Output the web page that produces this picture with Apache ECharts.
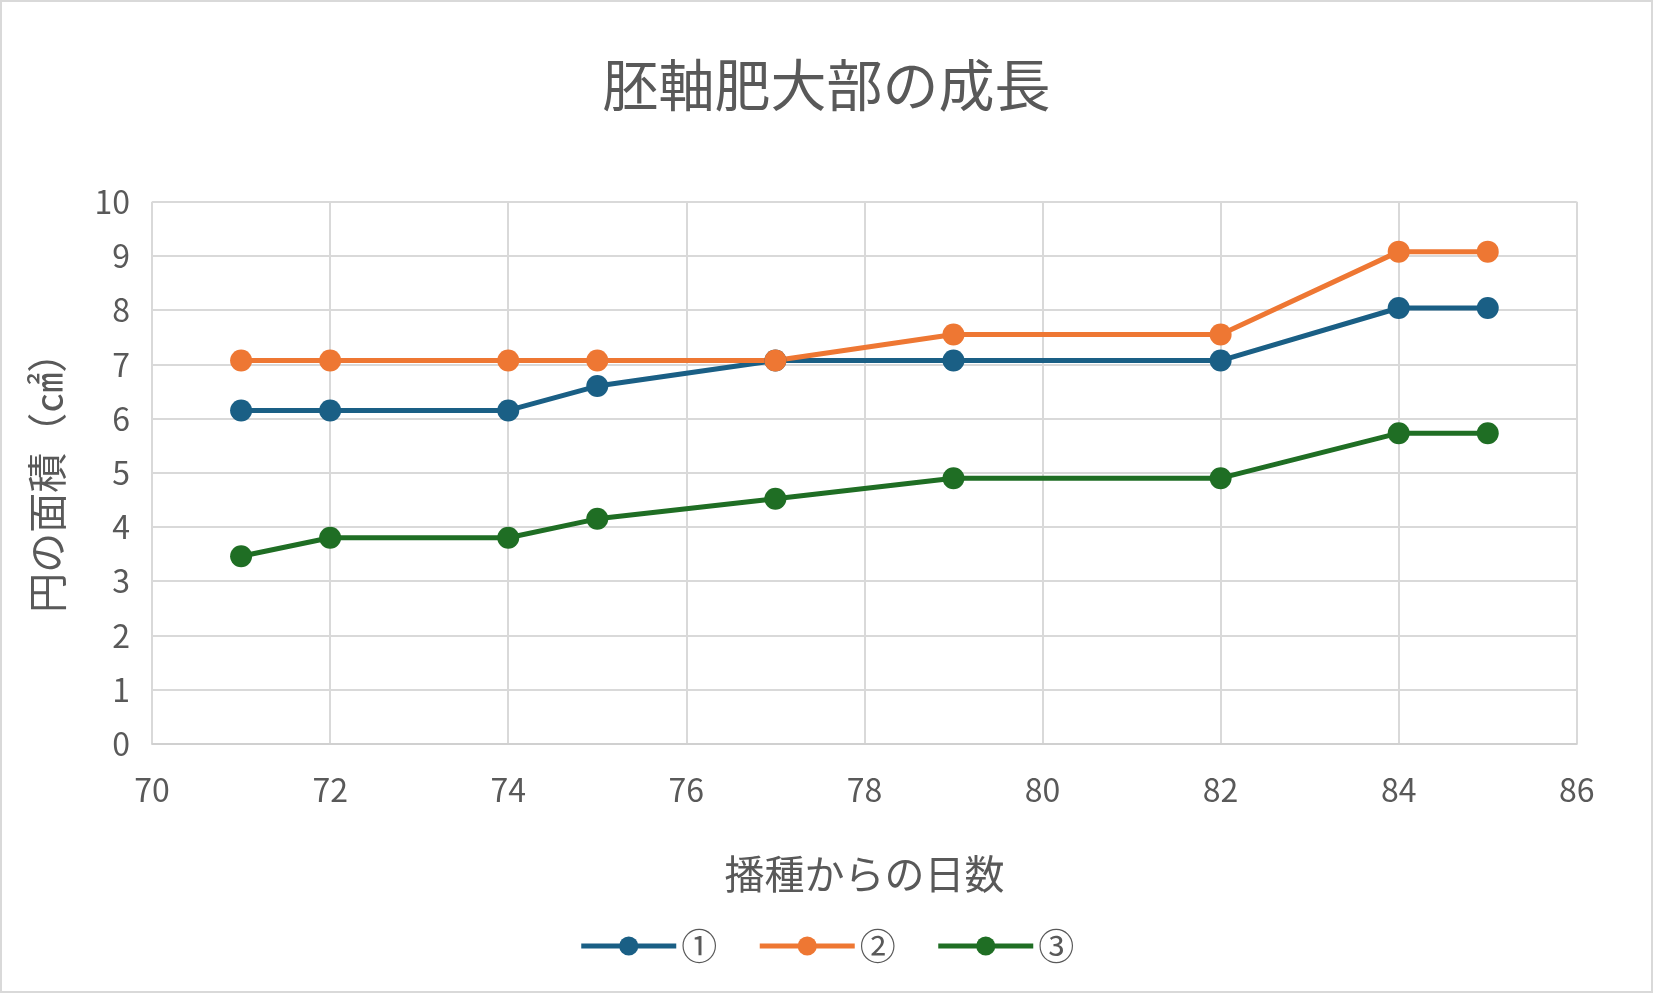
<!DOCTYPE html>
<html lang="ja">
<head>
<meta charset="UTF-8">
<script src="https://cdn.jsdelivr.net/npm/echarts@6/dist/echarts.min.js"></script>
<style>
html, body { width: 100%; height: 100%; margin: 0; padding: 0; background: #fff; }
#chart { width: 100%; height: 100%; box-sizing: border-box; border: 2px solid #d9d9d9; }
body { overflow: hidden; }
</style>
</head>
<body>
<div id="chart"></div>
<script>
// 播種からの日数
const days = [71, 72, 74, 75, 77, 79, 82, 84, 85];
const s1 = [6.15, 6.15, 6.15, 6.6, 7.07, 7.07, 7.07, 8.04, 8.04];
const s2 = [7.07, 7.07, 7.07, 7.07, 7.07, 7.55, 7.55, 9.08, 9.08];
const s3 = [3.46, 3.8, 3.8, 4.15, 4.52, 4.9, 4.9, 5.73, 5.73];
const names = ['①', '②', '③'];
const colors = ['#1a5f85', '#ee7733', '#1f6e24'];

const font = '"Noto Sans CJK JP", "Noto Sans", sans-serif';
const chart = echarts.init(document.getElementById('chart'));

function mk(name, vals, color) {
    return {
        name: name, type: 'line',
        data: days.map((d, i) => [d, vals[i]]),
        symbol: 'circle', symbolSize: 22,
        itemStyle: { color: color },
        lineStyle: { color: color, width: 5 }
    };
}

chart.setOption({
    color: colors,
    title: {
        text: '胚軸肥大部の成長', left: 'center', top: 50,
        textStyle: { fontFamily: font, fontSize: 56, fontWeight: 'normal', color: '#595959' }
    },
    legend: {
        bottom: 22, itemWidth: 95, itemHeight: 24, itemGap: 40,
        lineStyle: { width: 5 },
        textStyle: { fontFamily: font, fontSize: 36, color: '#595959' }
    },
    grid: { left: '9.1%', right: '4.5%', top: '20.2%', bottom: '25%' },
    xAxis: {
        type: 'value', min: 70, max: 86, interval: 2,
        name: '播種からの日数', nameLocation: 'middle', nameGap: 110,
        nameTextStyle: { fontFamily: font, fontSize: 40, color: '#595959' },
        axisLine: { lineStyle: { color: '#d0d0d0', width: 2 } },
        axisTick: { show: false },
        axisLabel: { fontFamily: font, fontSize: 32, color: '#595959', margin: 30 },
        splitLine: { lineStyle: { color: '#d9d9d9', width: 2 } }
    },
    yAxis: {
        type: 'value', min: 0, max: 10, interval: 1,
        name: '円の面積（㎠）', nameLocation: 'middle', nameGap: 85,
        nameTextStyle: { fontFamily: font, fontSize: 40, color: '#595959' },
        axisLine: { show: false }, axisTick: { show: false },
        axisLabel: { fontFamily: font, fontSize: 32, color: '#595959', margin: 22 },
        splitLine: { lineStyle: { color: '#d9d9d9', width: 2 } }
    },
    series: [mk(names[0], s1, colors[0]), mk(names[1], s2, colors[1]), mk(names[2], s3, colors[2])]
});
window.addEventListener('resize', () => chart.resize());
</script>
</body>
</html>
